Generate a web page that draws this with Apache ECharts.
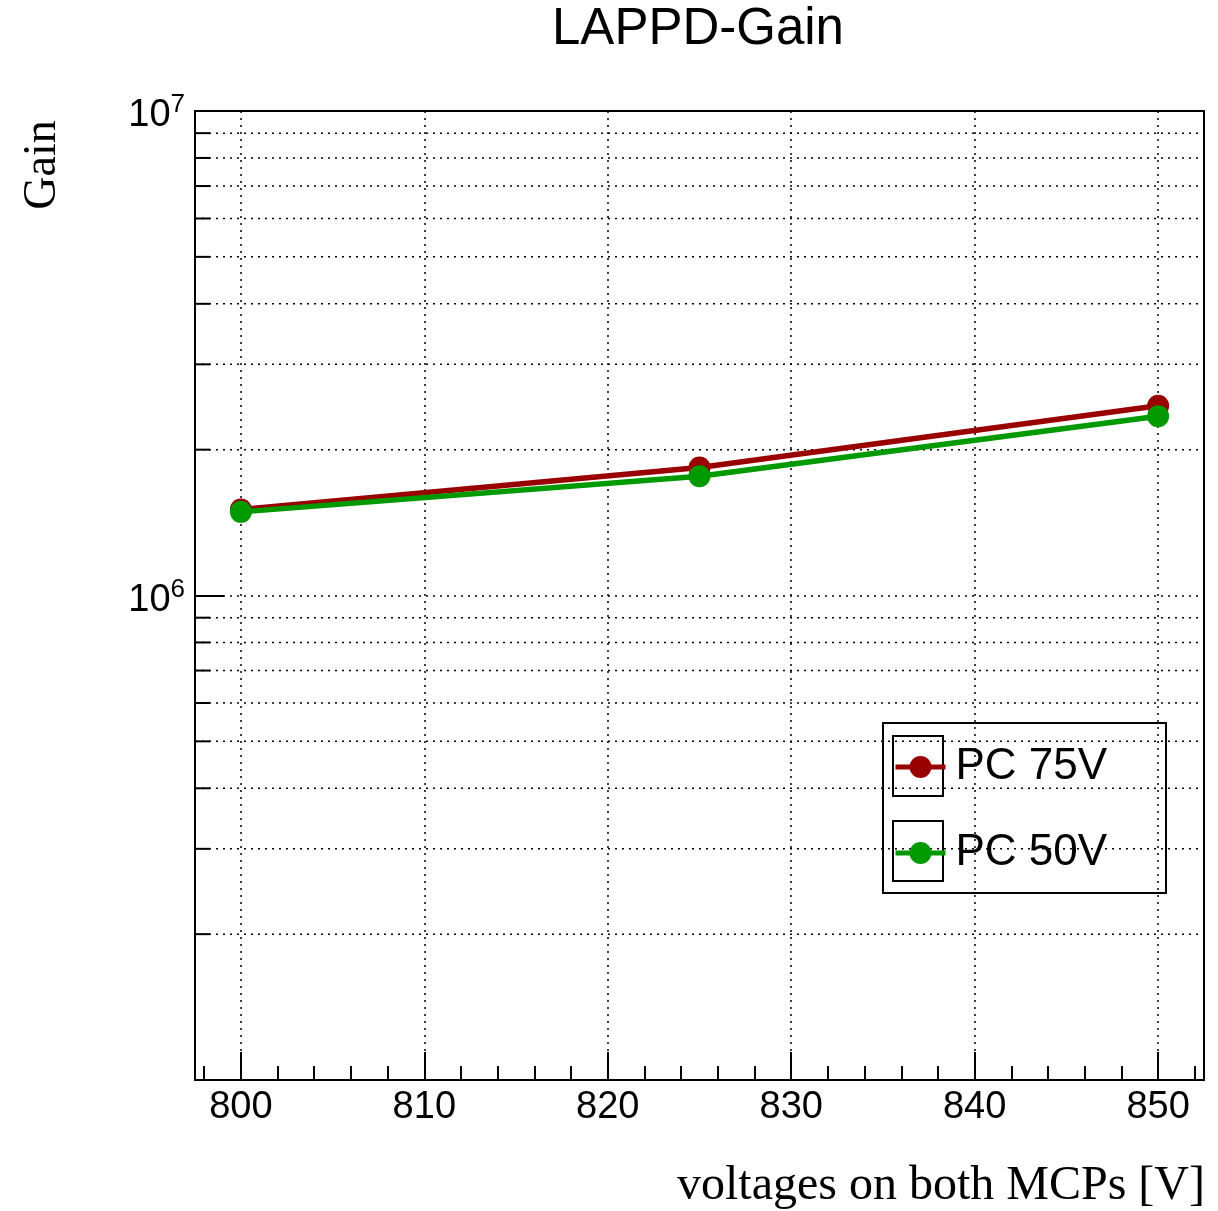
<!DOCTYPE html>
<html>
<head>
<meta charset="utf-8">
<script src="https://cdn.jsdelivr.net/npm/echarts@6/dist/echarts.min.js"></script>
<style>
html, body { margin: 0; padding: 0; background: #fff; }
#container { width: 1218px; height: 1211px; }
</style>
</head>
<body>
<div id="container"></div>
<script>
var voltages = [800, 825, 850];
var gainPC75 = [1.505e6, 1.838e6, 2.464e6];
var gainPC50 = [1.488e6, 1.762e6, 2.343e6];
var yMinorTicks = [2e5, 3e5, 4e5, 5e5, 6e5, 7e5, 8e5, 9e5,
                   2e6, 3e6, 4e6, 5e6, 6e6, 7e6, 8e6, 9e6];
var xMin = 797.5, xMax = 852.5;
var yMin = 1e5, yMax = 1e7;

var sans = '"Liberation Sans", Arial, sans-serif';
var serif = '"Liberation Serif", "Times New Roman", serif';
var dotted = [2, 5];

function pairs(xs, ys) {
    return xs.map(function (x, i) { return [x, ys[i]]; });
}

var dom = document.getElementById("container");
var myChart = echarts.init(dom);
var option = {
    animation: false,
    title: {
        text: 'LAPPD-Gain',
        left: 552,
        top: 4,
        padding: 0,
        textStyle: { fontFamily: sans, fontSize: 51, fontWeight: 'normal', color: '#000' }
    },
    grid: {
        left: 195, right: 14, top: 111, bottom: 131,
        show: true, borderColor: '#000', borderWidth: 2
    },
    legend: {
        orient: 'vertical',
        left: 893,
        top: 745,
        padding: 0,
        itemWidth: 50,
        itemHeight: 27.5,
        itemGap: 42,
        data: ['PC 75V', 'PC 50V'],
        lineStyle: { width: 5 },
        textStyle: { fontFamily: sans, fontSize: 44, lineHeight: 44, color: '#000', padding: [0, 0, 0, 5] }
    },
    xAxis: {
        type: 'value',
        min: xMin,
        max: xMax,
        splitNumber: 5,
        axisLine: { lineStyle: { color: '#000', width: 2 } },
        axisTick: { inside: true, length: 28, lineStyle: { color: '#000', width: 2 } },
        minorTick: { show: true, splitNumber: 5, length: 14, lineStyle: { color: '#000', width: 2 } },
        splitLine: { show: true, lineStyle: { color: '#000', width: 1.5, type: dotted } },
        axisLabel: {
            showMinLabel: false, showMaxLabel: false,
            margin: 9, color: '#000', fontFamily: sans, fontSize: 38
        }
    },
    yAxis: {
        type: 'log',
        logBase: 10,
        min: yMin,
        max: yMax,
        axisLine: { show: true, lineStyle: { color: '#000', width: 2 } },
        axisTick: { show: true, inside: true, length: 29, lineStyle: { color: '#000', width: 2 } },
        splitLine: { show: true, lineStyle: { color: '#000', width: 1.5, type: dotted } },
        axisLabel: {
            margin: 10,
            formatter: function (v) {
                var e = Math.round(Math.log10(v));
                if (e <= 5) return '';
                return '{b|10}{s|' + e + '}';
            },
            rich: {
                b: { fontFamily: sans, fontSize: 38, lineHeight: 38, color: '#000', padding: [10, 0, 0, 0] },
                s: { fontFamily: sans, fontSize: 26, lineHeight: 26, color: '#000', verticalAlign: 'top' }
            }
        }
    },
    graphic: [
        {
            type: 'text', x: 43, y: 165, rotation: Math.PI / 2,
            style: { text: 'Gain', font: '46px ' + serif, fill: '#000', align: 'center', verticalAlign: 'middle' }
        },
        {
            type: 'text', x: 1205, y: 1186,
            style: { text: 'voltages on both MCPs [V]', font: '48px ' + serif, fill: '#000', align: 'right', verticalAlign: 'middle' }
        },
        {
            type: 'rect', shape: { x: 883, y: 723, width: 283, height: 170 },
            style: { fill: 'none', stroke: '#000', lineWidth: 2 }, z: 0
        },
        {
            type: 'rect', shape: { x: 893, y: 736, width: 50, height: 60 },
            style: { fill: 'none', stroke: '#000', lineWidth: 2 }, z: 0
        },
        {
            type: 'rect', shape: { x: 893, y: 821, width: 50, height: 60 },
            style: { fill: 'none', stroke: '#000', lineWidth: 2 }, z: 0
        }
    ],
    series: [
        {
            name: 'yMinor',
            type: 'custom',
            z: 1,
            silent: true,
            data: yMinorTicks.map(function (v) { return [xMin, v]; }),
            encode: { x: 0, y: 1 },
            renderItem: function (params, api) {
                var v = api.value(1);
                var l = api.coord([xMin, v]);
                var r = api.coord([xMax, v]);
                return {
                    type: 'group',
                    children: [
                        { type: 'line', shape: { x1: l[0], y1: l[1], x2: r[0], y2: r[1] },
                          style: { stroke: '#000', lineWidth: 1.5, lineDash: dotted } },
                        { type: 'line', shape: { x1: l[0], y1: l[1], x2: l[0] + 15, y2: l[1] },
                          style: { stroke: '#000', lineWidth: 2 } }
                    ]
                };
            }
        },
        {
            name: 'PC 75V',
            type: 'line',
            z: 3,
            data: pairs(voltages, gainPC75),
            symbol: 'circle',
            symbolSize: 22,
            color: '#990000',
            itemStyle: { color: '#990000' },
            lineStyle: { color: '#990000', width: 5.5 }
        },
        {
            name: 'PC 50V',
            type: 'line',
            z: 3,
            data: pairs(voltages, gainPC50),
            symbol: 'circle',
            symbolSize: 22,
            color: '#009900',
            itemStyle: { color: '#009900' },
            lineStyle: { color: '#009900', width: 5.5 }
        }
    ]
};
myChart.setOption(option, true);
</script>
</body>
</html>
